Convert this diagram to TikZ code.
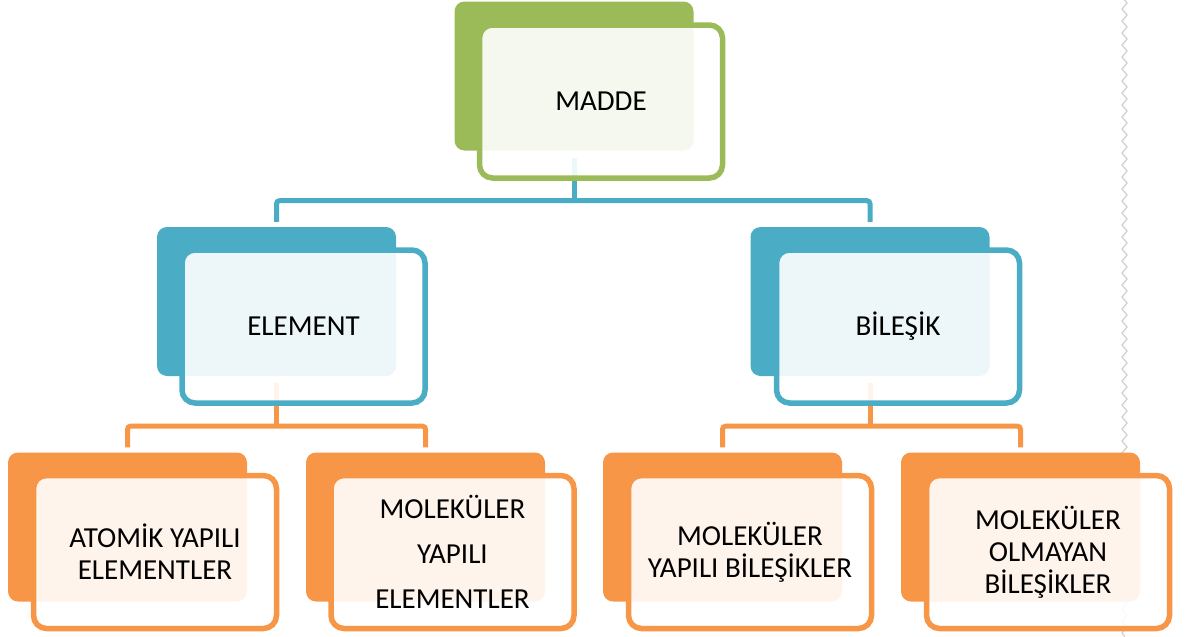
\documentclass[tikz,border=0pt]{standalone}
\usepackage{fontspec}
\newfontfamily\carlito{Carlito}
\usetikzlibrary{decorations.pathmorphing}

\definecolor{mgreen}{HTML}{9BBB59}
\definecolor{mblue}{HTML}{4BACC6}
\definecolor{morange}{HTML}{F79646}
\definecolor{zigzaggray}{HTML}{CFCFCF}

\tikzset{
  backbox/.style={draw=none, fill=#1, rounded corners=10pt,
    minimum width=239pt, minimum height=149pt, inner sep=0pt},
  frontbox/.style={draw=#1, line width=5.5pt, fill=white, fill opacity=0.9,
    text opacity=1, rounded corners=13pt, minimum width=243pt,
    minimum height=153pt, inner sep=0pt, align=center, text=black,
    font={\carlito\fontsize{29}{32}\selectfont}},
  wide lines/.style={font={\carlito\fontsize{29}{45}\selectfont}},
  link/.style={draw=#1, line width=5pt, rounded corners=3pt},
  zigline/.style={draw=zigzaggray, line width=1.2pt, decorate,
    decoration={zigzag, segment length=12pt, amplitude=2.5pt}},
}

\begin{document}
\begin{tikzpicture}[x=1pt, y=-1pt]
  \useasboundingbox (0,0) rectangle (1186,637);

  % thin wavy rule on the right edge
  \coordinate (zt) at (1124.5,0);
  \coordinate (zb) at (1124.5,637);
  \draw[zigline] (zt) -- (zb);

  % back plates
  \node[backbox=mgreen]  (mback) at (574,76)     {};
  \node[backbox=mblue]   (eback) at (276.5,301.5) {};
  \node[backbox=mblue]   (bback) at (870,301.5)  {};
  \node[backbox=morange] (aback) at (127.5,527)  {};
  \node[backbox=morange] (yback) at (425.5,527)  {};
  \node[backbox=morange] (kback) at (722.5,527)  {};
  \node[backbox=morange] (oback) at (1020.5,527) {};

  % junction points of the tree
  \coordinate (j0) at ([yshift=-50pt]mback.south);
  \coordinate (j1) at ([yshift=-50pt]eback.south);
  \coordinate (j2) at ([yshift=-50pt]bback.south);

  % connectors
  \draw[link=mblue] ([yshift=-7pt]mback.south) -- (j0);
  \draw[link=mblue] ([yshift=5pt]eback.north) |- (j0) -| ([yshift=5pt]bback.north);
  \draw[link=morange] ([yshift=-7pt]eback.south) -- (j1);
  \draw[link=morange] ([yshift=5pt]aback.north) |- (j1) -| ([yshift=5pt]yback.north);
  \draw[link=morange] ([yshift=-7pt]bback.south) -- (j2);
  \draw[link=morange] ([yshift=5pt]kback.north) |- (j2) -| ([yshift=5pt]oback.north);

  % front cards with the labels
  \node[frontbox=mgreen]  (madde)   at (601,101.5)  {MADDE};
  \node[frontbox=mblue]   (element) at (303.5,326.5) {ELEMENT};
  \node[frontbox=mblue]   (bilesik) at (898,326.5)  {BİLEŞİK};
  \node[frontbox=morange] (atomik)  at (155,552)    {ATOMİK YAPILI\\ELEMENTLER};
  \node[frontbox=morange, wide lines] (molel) at (452.5,552) {MOLEKÜLER\\YAPILI\\ELEMENTLER};
  \node[frontbox=morange] (molbil)  at (750,552)    {MOLEKÜLER\\YAPILI BİLEŞİKLER};
  \node[frontbox=morange] (olmayan) at (1048,552)   {MOLEKÜLER\\OLMAYAN\\BİLEŞİKLER};
\end{tikzpicture}
\end{document}
